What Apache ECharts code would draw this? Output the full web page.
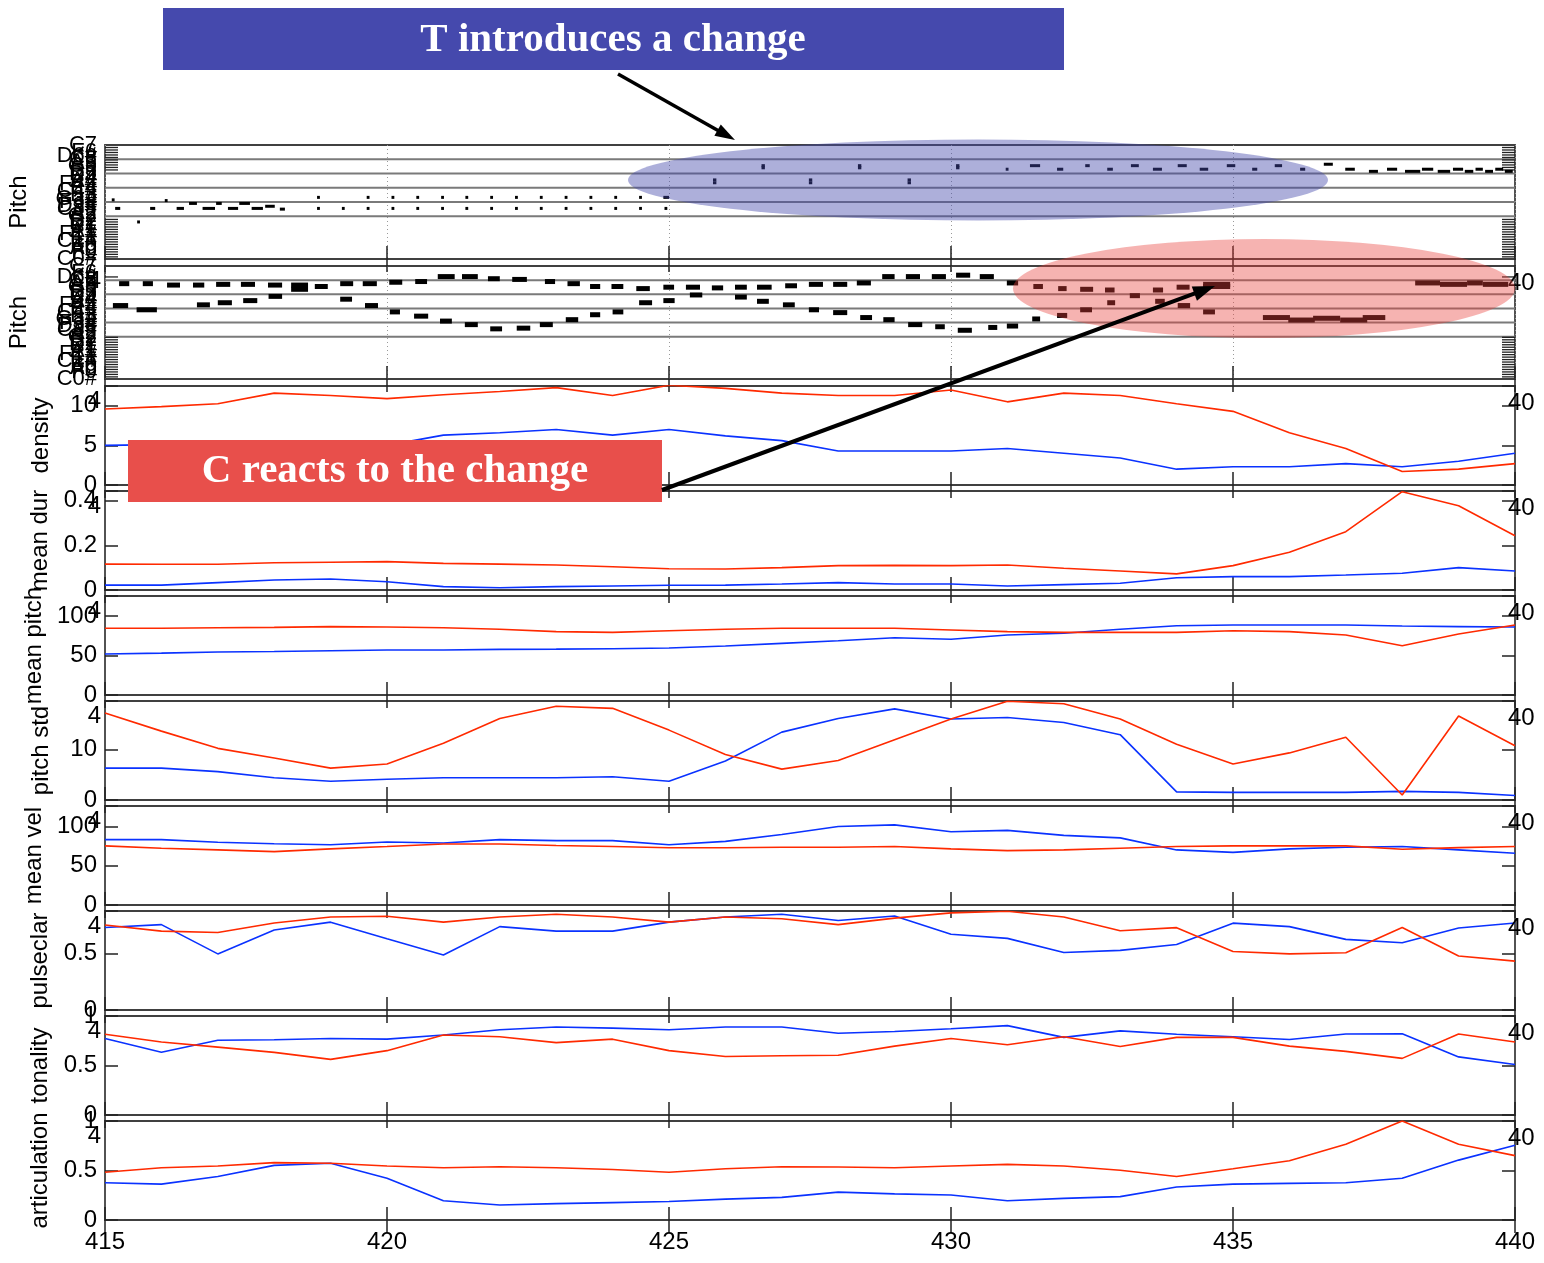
<!DOCTYPE html>
<html><head><meta charset="utf-8">
<script src="https://cdn.jsdelivr.net/npm/echarts@6/dist/echarts.min.js"></script>
<style>html,body{margin:0;padding:0;background:#fff}#c{width:1544px;height:1263px}</style>
</head><body><div id="c"></div>
<script>
// ---------------- data ----------------
const frames = [415,416,417,418,419,420,421,422,423,424,425,426,427,428,429,430,431,432,433,434,435,436,437,438,439,440];
const xTickLabels = [415,420,425,430,435,440];

const densityBlue = [5.0,5.1,5.2,5.2,5.1,5.0,6.3,6.6,7.0,6.3,7.0,6.2,5.6,4.3,4.3,4.3,4.6,4.0,3.4,2.0,2.3,2.3,2.7,2.3,3.0,4.0];
const densityRed  = [9.6,9.9,10.25,11.6,11.3,10.9,11.4,11.8,12.3,11.3,12.6,12.2,11.6,11.3,11.3,12.0,10.5,11.6,11.3,10.25,9.3,6.6,4.6,1.7,2.0,2.7];

const meanDurBlue = [0.022,0.022,0.033,0.045,0.049,0.037,0.015,0.010,0.015,0.018,0.021,0.022,0.027,0.033,0.027,0.027,0.018,0.024,0.030,0.055,0.060,0.060,0.067,0.075,0.100,0.085];
const meanDurRed  = [0.116,0.115,0.115,0.122,0.124,0.127,0.119,0.116,0.112,0.104,0.095,0.094,0.100,0.109,0.110,0.109,0.112,0.097,0.085,0.072,0.109,0.169,0.261,0.440,0.377,0.243];

const meanPitchBlue = [51.9,53,54.4,55,56,57,57,57.8,58,58.6,59.5,62,65.4,68.7,72.5,70.5,76,78.1,83.2,87.7,88.6,88.6,88.6,87.3,86.5,86];
const meanPitchRed  = [84.4,84.4,85.2,85.6,86.5,86,85.2,83.2,80.2,79.3,81.4,83.2,84.4,84.4,84.4,82.3,80.2,79.3,79.3,79.3,81.4,80.2,76,62.4,77.2,88.6];

const pitchStdBlue = [6.3,6.3,5.6,4.4,3.7,4.1,4.4,4.4,4.4,4.6,3.7,7.7,13.4,16.1,18.0,16.0,16.3,15.3,12.9,1.6,1.5,1.5,1.5,1.7,1.5,0.9];
const pitchStdRed  = [17.2,13.6,10.2,8.3,6.3,7.1,11.2,16.1,18.5,18.1,13.8,9.0,6.1,7.8,11.9,16.0,19.5,19.0,16.0,11.0,7.1,9.3,12.4,1.0,16.6,10.7];

const meanVelBlue = [83.2,83.2,79.8,78,76.7,80.2,78.9,83.2,81.9,81.9,76.7,81,89.8,99.9,102,93.3,95,88.6,85.4,70.1,67,71.4,73.5,74.4,70.1,65.8];
const meanVelRed  = [75.3,72.3,70.1,67.9,71.4,74.4,77.6,77.6,75.8,74.4,72.8,72.8,73.5,73.5,74.4,71.4,69.2,70.1,72.3,74.4,75.3,75.3,75.3,71,73,74.4];

const pulseclarBlue = [0.733,0.758,0.498,0.71,0.78,0.633,0.489,0.74,0.70,0.70,0.78,0.826,0.85,0.795,0.835,0.673,0.636,0.51,0.529,0.581,0.771,0.74,0.627,0.597,0.728,0.773];
const pulseclarRed  = [0.755,0.70,0.688,0.773,0.826,0.832,0.78,0.826,0.85,0.826,0.78,0.826,0.81,0.758,0.816,0.862,0.877,0.826,0.703,0.731,0.52,0.498,0.508,0.733,0.48,0.434];

const tonalityBlue = [0.773,0.633,0.755,0.76,0.773,0.766,0.808,0.861,0.889,0.878,0.861,0.889,0.889,0.826,0.844,0.871,0.903,0.784,0.85,0.815,0.791,0.762,0.818,0.82,0.587,0.51];
const tonalityRed  = [0.815,0.738,0.686,0.633,0.562,0.65,0.808,0.791,0.731,0.766,0.65,0.591,0.598,0.604,0.696,0.773,0.71,0.791,0.692,0.784,0.784,0.696,0.643,0.572,0.818,0.738];

const articulationBlue = [0.377,0.362,0.44,0.552,0.573,0.421,0.194,0.151,0.165,0.176,0.187,0.211,0.229,0.282,0.264,0.253,0.194,0.218,0.236,0.334,0.362,0.37,0.377,0.421,0.605,0.756];
const articulationRed  = [0.482,0.528,0.545,0.58,0.573,0.545,0.528,0.538,0.528,0.51,0.482,0.517,0.538,0.535,0.528,0.545,0.562,0.545,0.503,0.44,0.517,0.598,0.766,1.0,0.766,0.65];

// piano-roll notes: [onset, offset, staff position]
const notesT = [
 [415.12,415.17,8.3],[415.18,415.27,7.1],[415.57,415.62,5.2],[415.80,415.89,7.1],[416.06,416.11,8.2],
 [416.27,416.40,7.1],[416.49,416.63,7.8],[416.73,416.95,7.1],[416.97,417.07,7.8],[417.18,417.36,7.1],
 [417.38,417.57,7.8],[417.60,417.80,7.1],[417.84,418.01,7.4],[418.10,418.19,7.0],
 [418.76,418.81,8.65],[418.76,418.81,7.1],[419.20,419.25,7.1],[419.64,419.69,8.65],[419.64,419.69,7.1],
 [420.08,420.13,8.65],[420.08,420.13,7.1],[420.52,420.57,8.65],[420.52,420.57,7.1],[420.96,421.01,8.65],[420.96,421.01,7.1],
 [421.39,421.44,8.65],[421.39,421.44,7.1],[421.83,421.88,8.65],[421.83,421.88,7.1],[422.27,422.32,8.65],[422.27,422.32,7.1],
 [422.71,422.76,8.65],[422.71,422.76,7.1],[423.15,423.20,8.65],[423.15,423.20,7.1],[423.59,423.64,8.65],[423.59,423.64,7.1],
 [424.03,424.08,8.65],[424.03,424.08,7.1],[424.47,424.52,8.65],[424.47,424.52,7.1],[424.90,425.00,8.65],[424.92,424.97,7.1],
 [425.78,425.84,11.1],[425.78,425.84,10.7],[426.64,426.70,13.1],[426.64,426.70,12.8],
 [427.48,427.54,11.1],[427.48,427.54,10.7],[428.35,428.41,13.1],[428.35,428.41,12.8],
 [429.23,429.29,11.1],[429.23,429.29,10.7],[430.09,430.15,13.1],[430.09,430.15,12.8],
 [430.97,431.02,12.6],[431.40,431.58,13.1],[431.88,431.99,12.6],[432.38,432.46,13.1],[432.77,432.87,12.6],
 [433.19,433.33,13.1],[433.58,433.74,12.6],[434.02,434.18,13.1],[434.41,434.56,12.6],[434.89,435.04,13.1],
 [435.34,435.43,12.6],[435.74,435.87,13.1],[436.19,436.28,12.6],[436.61,436.77,13.3],[436.99,437.16,12.6],
 [437.41,437.57,12.3],[437.73,437.91,12.6],[438.05,438.32,12.3],[438.35,438.55,12.6],[438.63,438.85,12.3],
 [438.90,439.08,12.6],[439.11,439.26,12.3],[439.30,439.43,12.6],[439.47,439.61,12.3],[439.65,439.79,12.6],[439.82,439.96,12.3]
];
const notesC = [
 [415.25,415.43,13.5],[415.67,415.85,13.5],[416.10,416.33,13.3],[416.56,416.76,13.3],[416.97,417.22,13.4],
 [417.41,417.66,13.4],[417.89,418.14,13.3],[418.30,418.60,13.3],[418.30,418.60,12.7],[418.72,418.95,13.1],
 [419.17,419.40,13.5],[419.57,419.82,13.5],[420.04,420.27,13.7],[420.50,420.71,13.8],[420.90,421.20,14.5],
 [421.33,421.61,14.5],[421.79,422.00,14.2],[422.22,422.48,14.1],[422.80,422.98,13.8],[423.20,423.42,13.5],
 [423.60,423.78,13.1],[423.98,424.19,13.1],[424.42,424.66,12.8],[424.90,425.09,13.0],[425.30,425.55,13.0],
 [425.76,425.96,12.9],[426.17,426.38,13.0],[426.56,426.82,13.0],[427.06,427.27,13.2],[427.48,427.73,13.4],
 [427.91,428.16,13.4],[428.33,428.58,13.6],[428.78,429.00,14.5],[429.20,429.45,14.5],[429.66,429.91,14.5],
 [430.09,430.34,14.7],[430.51,430.76,14.5],[430.99,431.19,13.6],[431.46,431.63,13.1],[431.90,432.05,12.8],
 [432.29,432.52,12.7],[432.73,432.90,12.6],[433.17,433.35,11.8],[433.58,433.76,12.6],[434.00,434.23,13.0],
 [434.47,434.95,13.4],[434.47,434.95,13.1],
 [415.14,415.41,10.4],[415.56,415.92,9.8],[416.63,416.86,10.5],[417.00,417.25,10.8],[417.45,417.70,11.1],
 [417.90,418.14,11.7],[419.17,419.38,11.3],[419.61,419.84,10.4],[420.05,420.23,9.5],[420.48,420.73,8.9],
 [420.94,421.15,8.2],[421.38,421.61,7.7],[421.83,422.04,7.1],[422.30,422.54,7.2],[422.71,422.94,7.7],
 [423.17,423.39,8.4],[423.60,423.78,9.1],[424.00,424.19,9.5],[424.47,424.70,10.8],[424.90,425.10,11.1],
 [425.37,425.59,11.9],[426.17,426.38,11.6],[426.56,426.77,11.0],[427.02,427.23,10.5],[427.48,427.66,9.8],
 [427.91,428.16,9.4],[428.39,428.60,8.7],[428.80,429.00,8.4],[429.24,429.49,7.7],[429.72,429.89,7.4],
 [430.12,430.37,6.9],[430.66,430.82,7.3],[430.99,431.19,7.5],[431.44,431.58,8.5],[431.88,432.06,9.0],
 [432.29,432.50,9.8],[432.77,432.91,10.8],[433.62,433.79,11.0],[434.02,434.24,10.4],[434.47,434.68,9.5],
 [435.53,436.01,8.7],[435.98,436.45,8.35],[436.42,436.90,8.6],[436.90,437.38,8.35],[437.30,437.70,8.7],
 [438.23,438.67,13.6],[438.67,439.15,13.4],[439.15,439.43,13.6],[439.43,439.88,13.4]
];
const staffLines = [6,8,10,12,14];
const pitchNames = ['C0#','E0','F0','A0','B0','C1#','E1','F1#','A1','B1','D2','E2','G2','A2','C3#','D3#','F3#',
  'G3#','B3','C4#','E4','F4#','A4','B4','D5','E5','G5','A5','C6','D6#','F6','G6#','C7'];
const pitchTicksT = [0.3,0.65,1.0,1.35,1.7,2.05,2.4,2.75,3.1,3.45,3.8,4.15,4.5,4.85,5.2,5.55,12.5,12.85,13.2,13.55,13.9,14.25,14.6,14.95,15.3,15.65];
const pitchTicksC = [0.3,0.65,1.0,1.35,1.7,2.05,2.4,2.75,3.1,3.45,3.8,4.15,4.5,4.85,5.2,5.55,5.9,14.45];

// ---------------- layout ----------------
const FONT = '"Liberation Sans", Arial, sans-serif';
const L = 105, R = 29;
const panels = [
 {name:'Pitch', top:145, h:114, max:16, interval:0.5, notes:notesT, ticks:pitchTicksT, noteH:3, gap:74},
 {name:'Pitch', top:266, h:113, max:16, interval:0.5, notes:notesC, ticks:pitchTicksC, noteH:5, gap:74, art:true},
 {name:'density', top:386, h:99, max:12.5, interval:5, blue:densityBlue, red:densityRed, art:true},
 {name:'mean dur', top:491, h:99, max:0.443, interval:0.2, blue:meanDurBlue, red:meanDurRed, art:true},
 {name:'mean pitch', top:596, h:99, max:125.3, interval:50, blue:meanPitchBlue, red:meanPitchRed, art:true},
 {name:'pitch std', top:701, h:99, max:19.55, interval:10, blue:pitchStdBlue, red:pitchStdRed, art:true},
 {name:'mean vel', top:806, h:99, max:126, interval:50, blue:meanVelBlue, red:meanVelRed, art:true},
 {name:'pulseclar', top:911, h:99, max:0.879, interval:0.5, blue:pulseclarBlue, red:pulseclarRed, art:true},
 {name:'tonality', top:1016, h:99, max:1, interval:0.5, blue:tonalityBlue, red:tonalityRed, art:true},
 {name:'articulation', top:1121, h:99, max:1, interval:0.5, blue:articulationBlue, red:articulationRed, art:true}
];
const BLUE = '#0a32ff', RED = '#ff2a00';
const tickStyle = {color:'#222', width:1.5};

const grid = [], xAxis = [], yAxis = [], series = [];
panels.forEach((p, i) => {
  const isPitch = !!p.notes;
  const last = i === panels.length - 1;
  grid.push({left:L, right:R, top:p.top, height:p.h, show:true, borderColor:'#404040', borderWidth:1.8,
             backgroundColor:'transparent', containLabel:false, outerBoundsMode:'none'});
  const xb = {type:'value', gridIndex:i, min:415, max:440, interval:5, position:'bottom',
    axisLine:{show:false}, axisTick:{show:true, inside:true, length:13, lineStyle:tickStyle},
    axisLabel:{show:last, fontSize:24, color:'#000', fontFamily:FONT, margin:10,
      formatter:(v)=> xTickLabels.includes(v) ? String(v) : ''},
    splitLine:{show:isPitch, lineStyle:{type:[1,3], color:'#9a9a9a', width:1}}};
  const xt = {type:'value', gridIndex:i, min:415, max:440, interval:5, position:'top',
    axisLine:{show:false}, axisTick:{show:true, inside:true, length:13, lineStyle:tickStyle},
    axisLabel:{show:false}, splitLine:{show:false}};
  xAxis.push(xb, xt);
  const fmt = (v) => {
    if (isPitch) return pitchNames[Math.round(v*2)] || '';
    const k = v / p.interval;
    return Math.abs(k - Math.round(k)) < 1e-6 ? String(Number(v.toFixed(3))) : '';
  };
  yAxis.push({type:'value', gridIndex:i, min:0, max:p.max, interval:p.interval, position:'left',
    name:p.name, nameLocation:'middle', nameGap:p.gap || 52,
    nameTextStyle:{fontSize:24, color:'#000', fontFamily:FONT},
    axisLine:{show:false},
    axisTick:{show:!isPitch, inside:true, length:13, lineStyle:tickStyle},
    axisLabel:{show:true, fontSize:isPitch ? 22 : 24, color:'#000', fontFamily:FONT, margin:8,
      showMinLabel:true, showMaxLabel:true, hideOverlap:false, formatter:fmt},
    splitLine:{show:false}});
  yAxis.push({type:'value', gridIndex:i, min:0, max:p.max, interval:p.interval, position:'right',
    axisLine:{show:false},
    axisTick:{show:!isPitch, inside:true, length:13, lineStyle:tickStyle},
    axisLabel:{show:false}, splitLine:{show:false}});
  const xi = 2*i, yi = 2*i;
  if (isPitch) {
    series.push({type:'custom', xAxisIndex:xi, yAxisIndex:yi, silent:true, z:1,
      data: staffLines.map(v => [415, v, 440]), encode:{x:[0,2], y:1},
      renderItem:(params, api) => {
        const a = api.coord([api.value(0), api.value(1)]), b = api.coord([api.value(2), api.value(1)]);
        return {type:'line', shape:{x1:a[0], y1:a[1], x2:b[0], y2:b[1]}, style:{stroke:'#7a7a7a', lineWidth:2}};
      }});
    series.push({type:'custom', xAxisIndex:xi, yAxisIndex:yi, silent:true, z:2,
      data: p.ticks.map(v => [415, v, 440]), encode:{x:[0,2], y:1},
      renderItem:(params, api) => {
        const a = api.coord([api.value(0), api.value(1)]), b = api.coord([api.value(2), api.value(1)]);
        return {type:'group', children:[
          {type:'line', shape:{x1:a[0], y1:a[1], x2:a[0]+13, y2:a[1]}, style:{stroke:'#222', lineWidth:1.3}},
          {type:'line', shape:{x1:b[0]-13, y1:b[1], x2:b[0], y2:b[1]}, style:{stroke:'#222', lineWidth:1.3}}]};
      }});
    const nh = p.noteH;
    series.push({type:'custom', xAxisIndex:xi, yAxisIndex:yi, silent:true, z:3,
      data: p.notes, encode:{x:[0,1], y:2},
      renderItem:(params, api) => {
        const s = api.coord([api.value(0), api.value(2)]), e = api.coord([api.value(1), api.value(2)]);
        return {type:'rect', shape:{x:s[0], y:s[1]-nh/2, width:Math.max(e[0]-s[0], 2.5), height:nh},
                style:{fill:'#000'}};
      }});
  } else {
    series.push({type:'line', xAxisIndex:xi, yAxisIndex:yi, symbol:'none', silent:true,
      data: frames.map((x, k) => [x, p.blue[k]]), lineStyle:{color:BLUE, width:1.6}, z:3});
    series.push({type:'line', xAxisIndex:xi, yAxisIndex:yi, symbol:'none', silent:true,
      data: frames.map((x, k) => [x, p.red[k]]), lineStyle:{color:RED, width:1.6}, z:3});
  }
});

// ---------------- annotations ----------------
function arrow(x1, y1, x2, y2, lw, hl, hw) {
  const dx = x2 - x1, dy = y2 - y1, len = Math.hypot(dx, dy), ux = dx/len, uy = dy/len;
  const bx = x2 - ux*hl, by = y2 - uy*hl;
  return [
    {type:'line', z:120, shape:{x1, y1, x2:bx+ux*2, y2:by+uy*2}, style:{stroke:'#000', lineWidth:lw}},
    {type:'polygon', z:120, shape:{points:[[x2, y2], [bx - uy*hw/2, by + ux*hw/2], [bx + uy*hw/2, by - ux*hw/2]]},
     style:{fill:'#000'}}
  ];
}
const elements = [
  {type:'circle', z:100, x:978, y:180, scaleX:350/40.5, scaleY:1, shape:{cx:0, cy:0, r:40.5},
   style:{fill:'rgba(69,73,171,0.44)'}},
  {type:'circle', z:100, x:1264, y:288.5, scaleX:251/49.5, scaleY:1, shape:{cx:0, cy:0, r:49.5},
   style:{fill:'rgba(232,65,60,0.40)'}},
  {type:'rect', z:110, shape:{x:163, y:8, width:901, height:62}, style:{fill:'#4549ad'}},
  {type:'text', z:111, x:613, y:40, style:{text:'T introduces a change', font:'bold 41px "Liberation Serif", serif',
    fill:'#fff', textAlign:'center', textVerticalAlign:'middle'}},
  {type:'rect', z:110, shape:{x:128, y:440, width:534, height:62}, style:{fill:'#e84f4b'}},
  {type:'text', z:111, x:395, y:471, style:{text:'C reacts to the change', font:'bold 41px "Liberation Serif", serif',
    fill:'#fff', textAlign:'center', textVerticalAlign:'middle'}},
  ...arrow(618, 74, 735, 140, 3.5, 20, 13),
  ...arrow(662, 490, 1215, 286, 4, 22, 15)
];
panels.forEach(p => {
  if (!p.art) return;
  elements.push({type:'text', z:90, x:101, y:p.top+15, style:{text:'4', font:'24px ' + FONT, fill:'#000',
    textAlign:'right', textVerticalAlign:'middle'}});
  elements.push({type:'text', z:90, x:1508, y:p.top+17, style:{text:'40', font:'24px ' + FONT, fill:'#000',
    textAlign:'left', textVerticalAlign:'middle'}});
});

const chart = echarts.init(document.getElementById('c'), null, {renderer:'canvas'});
chart.setOption({
  animation:false, backgroundColor:'#fff',
  grid, xAxis, yAxis, series,
  graphic:{elements}
});
</script></body></html>
